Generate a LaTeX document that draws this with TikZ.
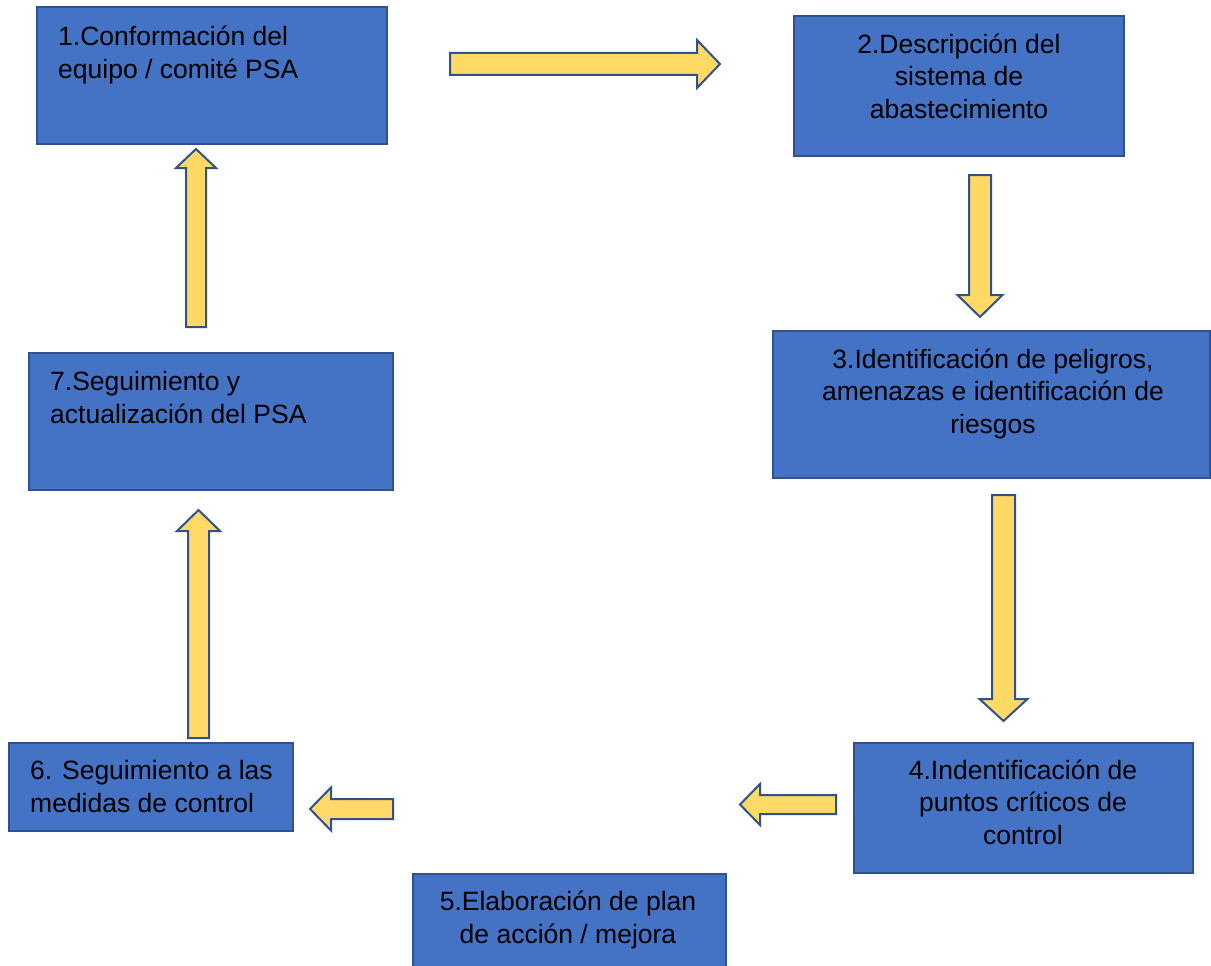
\documentclass[tikz,border=0pt]{standalone}
\usepackage{fontspec}
\setmainfont{Liberation Sans}
\usetikzlibrary{calc}
\definecolor{boxblue}{HTML}{4472C4}
\definecolor{boxedge}{HTML}{2F528F}
\definecolor{arrowfill}{HTML}{FFD966}
\newcommand\blockarrow[5]{%
  \coordinate (ba-p) at ($(#2)!#5!(#1)$);
  \draw[blockarr] ($(#1)!#3!90:(#2)$) -- ($(ba-p)!#3!90:(#2)$) -- ($(ba-p)!#4!90:(#2)$) -- (#2)
    -- ($(ba-p)!#4!-90:(#2)$) -- ($(ba-p)!#3!-90:(#2)$) -- ($(#1)!#3!-90:(#2)$) -- cycle;}
\tikzset{
  stepbox/.style={rectangle, draw=boxedge, line width=2pt, fill=boxblue, inner sep=0pt},
  boxtext/.style={inner sep=0pt, text=black, font=\fontsize{26.5}{32.5}\selectfont},
  blockarr/.style={draw=boxedge, line width=2pt, fill=arrowfill, line join=miter},
}
\begin{document}
\begin{tikzpicture}[x=1pt, y=-1pt]
\fill[white] (0,0) rectangle (1211,966);
\useasboundingbox (0,0) rectangle (1211,966);

% boxes
\node[stepbox, minimum width=350pt, minimum height=137pt] (b1) at (212,75.5) {};
\node[stepbox, minimum width=330pt, minimum height=140pt] (b2) at (959,86) {};
\node[stepbox, minimum width=437pt, minimum height=147pt] (b3) at (991.5,404.5) {};
\node[stepbox, minimum width=339pt, minimum height=130pt] (b4) at (1023.5,808) {};
\node[stepbox, minimum width=313pt, minimum height=110pt] (b5) at (569.5,929) {};
\node[stepbox, minimum width=284pt, minimum height=88pt] (b6) at (151,787) {};
\node[stepbox, minimum width=364pt, minimum height=137pt] (b7) at (211,421.5) {};

% texts (anchored at the baseline of their last line)
\node[boxtext, align=left, anchor=base west] (t1) at (58,78) {1.Conformación del\\equipo / comité PSA};
\node[boxtext, align=center, anchor=base] (t2) at (959,118) {2.Descripción del\\sistema de\\abastecimiento};
\node[boxtext, align=center, anchor=base] (t3) at (993,433) {3.Identificación de peligros,\\amenazas e identificación de\\riesgos};
\node[boxtext, align=center, anchor=base] (t4) at (1023,844) {4.Indentificación de\\puntos críticos de\\control};
\node[boxtext, align=center, anchor=base] (t5) at (568,943) {5.Elaboración de plan\\de acción / mejora};
\node[boxtext, align=left, anchor=base west] (t6) at (30,812) {6. Seguimiento a las\\medidas de control};
\node[boxtext, align=left, anchor=base west] (t7) at (50,423) {7.Seguimiento y\\actualización del PSA};

% arrow end points
\coordinate (a12s) at (450,64);     \coordinate (a12e) at (720,64);
\coordinate (a23s) at (980,175);    \coordinate (a23e) at (980,317);
\coordinate (a34s) at (1003.5,495); \coordinate (a34e) at (1003.5,721);
\coordinate (a45s) at (836,804.5);  \coordinate (a45e) at (740,804.5);
\coordinate (a56s) at (393,809);    \coordinate (a56e) at (310,809);
\coordinate (a67s) at (198.5,738);  \coordinate (a67e) at (198.5,510);
\coordinate (a71s) at (196,327);    \coordinate (a71e) at (196,149);

\blockarrow{a12s}{a12e}{11pt}{24pt}{23pt}
\blockarrow{a23s}{a23e}{11pt}{22.5pt}{22pt}
\blockarrow{a34s}{a34e}{11.5pt}{24pt}{22pt}
\blockarrow{a45s}{a45e}{9.5pt}{20.5pt}{20pt}
\blockarrow{a56s}{a56e}{10pt}{21.5pt}{21pt}
\blockarrow{a67s}{a67e}{10.5pt}{21.5pt}{21pt}
\blockarrow{a71s}{a71e}{10pt}{20pt}{19pt}
\end{tikzpicture}
\end{document}
